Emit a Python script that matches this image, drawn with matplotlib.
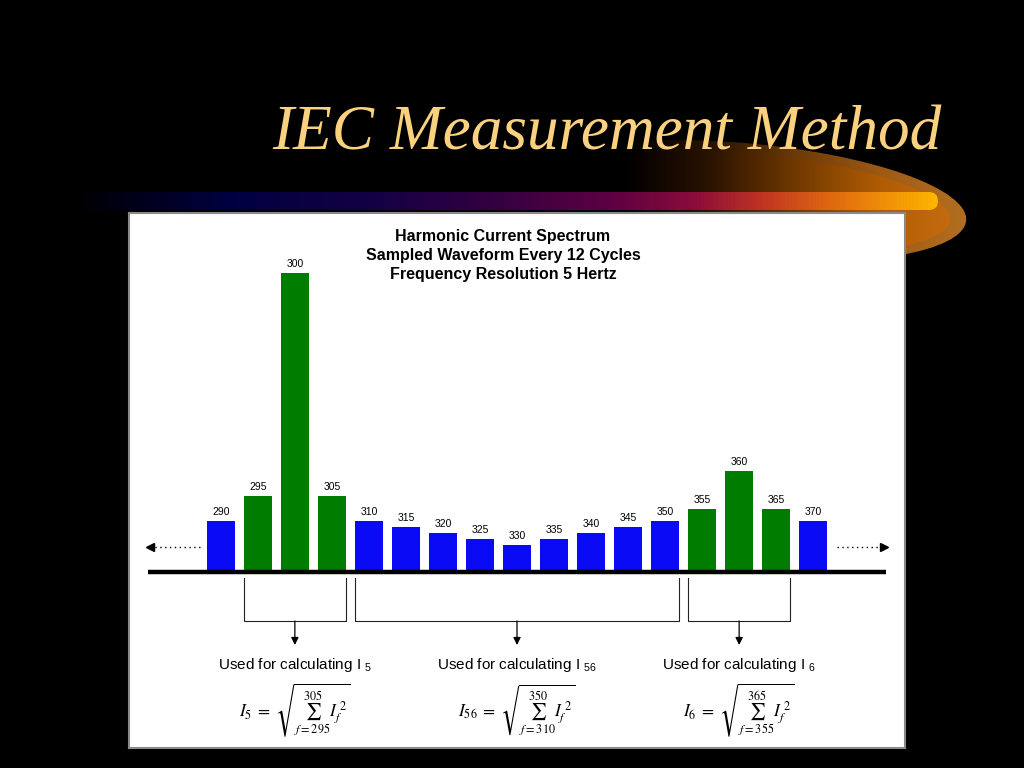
import numpy as np
import matplotlib.pyplot as plt
from matplotlib.colors import LinearSegmentedColormap
from matplotlib.patches import Ellipse, FancyBboxPatch

plt.rcParams['mathtext.fontset'] = 'custom'
plt.rcParams['mathtext.rm'] = 'Liberation Sans'
plt.rcParams['mathtext.it'] = 'Liberation Sans:italic'

# harmonic spectrum data (frequency in Hz, relative amplitude)
freqs = [290, 295, 300, 305, 310, 315, 320, 325, 330, 335, 340, 345, 350, 355, 360, 365, 370]
amps = [51, 76, 299, 76, 51, 45, 39, 33, 27, 33, 39, 45, 51, 63, 101, 63, 51]

# groups of bins used for each harmonic value
group_names = ['5', '56', '6']
group_lo = [295, 310, 355]
group_hi = [305, 350, 365]
green_groups = ['5', '6']

chart_title = 'Harmonic Current Spectrum\nSampled Waveform Every 12 Cycles\nFrequency Resolution 5 Hertz'
slide_title = 'IEC Measurement Method'

colors = []
for f in freqs:
    c = '#0a0af5'
    for name, lo, hi in zip(group_names, group_lo, group_hi):
        if name in green_groups and lo <= f <= hi:
            c = '#007d00'
    colors.append(c)

fig = plt.figure(figsize=(10.24, 7.68), dpi=100, facecolor='black')

# ---- slide background decoration (pixel coordinates) ----
bg = fig.add_axes([0, 0, 1, 1])
bg.set_facecolor('black')
bg.axis('off')

grad = np.linspace(0, 1, 256).reshape(1, -1)

# orange swoosh behind the title
ring_cmap = LinearSegmentedColormap.from_list('ring', ['#000000', '#2a1400', '#6e3c08', '#a05c16', '#b47020'])
ring = Ellipse((742, 201), 450, 116, angle=5, transform=bg.transData)
im = bg.imshow(grad, cmap=ring_cmap, extent=(625, 975, 265, 135), aspect='auto', zorder=1)
im.set_clip_path(ring)

sw_cmap = LinearSegmentedColormap.from_list('sw', ['#000000', '#2a1300', '#703800', '#b05c05', '#c86e10'])
inner = Ellipse((734, 201), 434, 100, angle=5, transform=bg.transData)
im = bg.imshow(grad, cmap=sw_cmap, extent=(625, 965, 265, 135), aspect='auto', zorder=2)
im.set_clip_path(inner)

# horizontal gradient bar
bar_cmap = LinearSegmentedColormap.from_list('bar', [
    (0.0, '#000000'), (0.18, '#000040'), (0.35, '#140045'), (0.5, '#360040'),
    (0.62, '#5c0042'), (0.72, '#8a0c3a'), (0.8, '#c03422'), (0.88, '#e06a10'), (1.0, '#ffb400')])
strip = FancyBboxPatch((70, 192), 868, 18, boxstyle='round,pad=0,rounding_size=9',
                       transform=bg.transData, facecolor='none', edgecolor='none')
im = bg.imshow(grad, cmap=bar_cmap, extent=(70, 938, 210, 192), aspect='auto', zorder=3)
im.set_clip_path(strip)

bg.text(607, 134, slide_title, fontsize=45.5, family='Liberation Serif', style='italic',
        color='#fad27f', ha='center', va='center', zorder=5)
bg.set_xlim(0, 1024)
bg.set_ylim(768, 0)

# ---- chart panel ----
ax = fig.add_axes([129 / 1024, 20 / 768, 776 / 1024, 535 / 768])
ax.set_facecolor('white')
ax.set_xlim(277.6, 382.4)
ax.set_ylim(-176, 359)
ax.set_xticks([])
ax.set_yticks([])
for s in ax.spines.values():
    s.set_color('#8a8a8a')
    s.set_linewidth(1.5)

bw = 3.8
ax.bar(freqs, amps, width=bw, color=colors, zorder=2)
for f, a in zip(freqs, amps):
    ax.annotate(str(f), (f, a), xytext=(0, 3), textcoords='offset points',
                ha='center', va='bottom', fontsize=7.5, family='Liberation Sans')

# baseline
ax.plot([freqs[0] - 9.9, freqs[-1] + 9.9], [0, 0], color='black', lw=3.2,
        solid_capstyle='butt', zorder=3)

# dotted continuation arrows
ax.plot([freqs[0] - 2.8, freqs[0] - 9.4], [25, 25], color='black', lw=1, ls=(0, (1, 2.5)))
ax.plot(freqs[0] - 9.5, 25, marker='<', ms=6, color='black')
ax.plot([freqs[-1] + 3.2, freqs[-1] + 9.4], [25, 25], color='black', lw=1, ls=(0, (1, 2.5)))
ax.plot(freqs[-1] + 9.6, 25, marker='>', ms=6, color='black')

# brackets, arrows and formulas
for name, lo, hi in zip(group_names, group_lo, group_hi):
    x0, x1 = lo - bw / 2, hi + bw / 2
    mid = (lo + hi) / 2
    ax.plot([x0, x0, x1, x1], [-6, -49, -49, -6], color='#222222', lw=0.8)
    ax.annotate('', xy=(mid, -73), xytext=(mid, -49),
                arrowprops=dict(arrowstyle='-|>', color='black', lw=0.9,
                                mutation_scale=11, shrinkA=0, shrinkB=0))
    ax.text(mid, -93, 'Used for calculating I $_{' + name + '}$', ha='center', va='center',
            fontsize=11, family='Liberation Sans')
    ax.text(mid, -138, r'$I_{' + name + r'}\;=\;\sqrt{\sum_{f=' + str(lo) + '}^{' + str(hi) + r'} I_f^{\ 2}}$',
            ha='center', va='center', fontsize=12.5, math_fontfamily='stix')

ax.text(0.482, 0.92, chart_title, transform=ax.transAxes, ha='center', va='center',
        fontsize=11.5, fontweight='bold', family='Liberation Sans', linespacing=1.33)

fig.savefig('out.png', dpi=100, facecolor='black')
